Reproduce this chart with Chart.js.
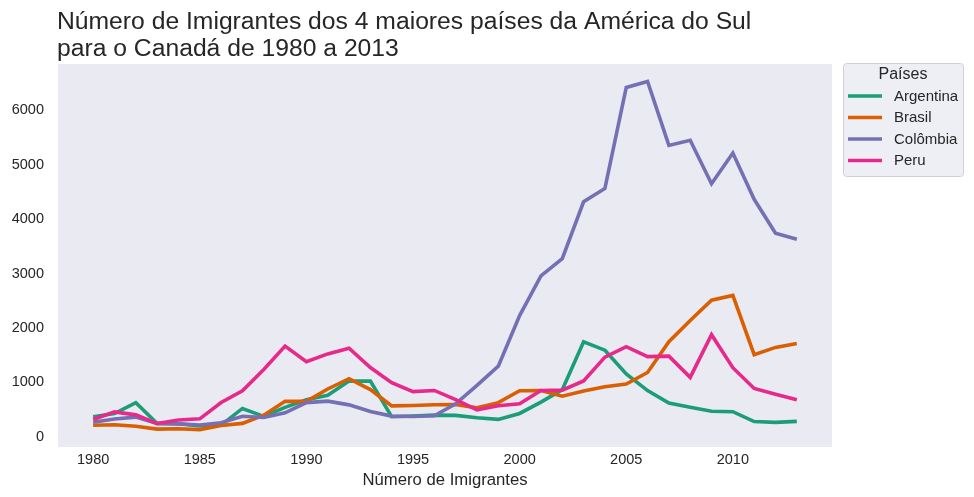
<!DOCTYPE html>
<html>
<head>
<meta charset="utf-8">
<script src="https://cdn.jsdelivr.net/npm/chart.js@4"></script>
<style>
  html, body { margin: 0; padding: 0; background: #ffffff; }
  #wrap { width: 974px; height: 497px; position: relative; }
</style>
</head>
<body>
<div id="wrap"><canvas id="c" width="974" height="497"></canvas></div>
<script>
const years = [1980,1981,1982,1983,1984,1985,1986,1987,1988,1989,1990,1991,1992,1993,1994,1995,1996,1997,1998,1999,2000,2001,2002,2003,2004,2005,2006,2007,2008,2009,2010,2011,2012,2013];
const argentina = [368,426,626,241,237,196,213,519,374,538,678,763,1023,1022,366,380,396,391,349,318,427,635,865,1745,1591,1153,847,620,540,467,459,278,263,282];
const brasil = [211,220,192,139,145,130,205,244,394,650,650,877,1066,866,566,572,586,591,531,626,845,847,745,839,917,969,1181,1746,2138,2509,2598,1508,1642,1714];
const colombia = [266,326,360,244,235,214,257,376,352,439,627,653,585,462,378,371,385,603,945,1296,2228,2958,3273,4320,4565,6424,6535,5357,5452,4652,5218,4366,3741,3631];
const peru = [317,456,401,241,306,328,628,843,1237,1667,1379,1522,1628,1271,993,828,850,682,493,569,606,850,856,1026,1463,1655,1472,1481,1091,1876,1269,887,782,680];
const seriesNames = ['Argentina','Brasil','Colômbia','Peru'];
const xTicks = [1980,1985,1990,1995,2000,2005,2010];
const yTicks = [0,1000,2000,3000,4000,5000,6000];
const titleLines = ['Número de Imigrantes dos 4 maiores países da América do Sul','para o Canadá de 1980 a 2013'];
const xLabel = 'Número de Imigrantes';
const legendTitle = 'Países';
const colors = ['#1b9e77','#d95f02','#7570b3','#e7298a'];

const FONT = "'Liberation Sans', Arial, sans-serif";
const TEXT = '#262626';
const allSeries = [argentina, brasil, colombia, peru];

const datasets = allSeries.map((vals, i) => ({
  label: seriesNames[i],
  data: years.map((y, j) => ({x: y, y: vals[j]})),
  borderColor: colors[i],
  backgroundColor: colors[i],
  borderWidth: 3.6,
  pointRadius: 0,
  tension: 0,
  order: allSeries.length - 1 - i
}));

const decor = {
  id: 'decor',
  beforeDraw(chart) {
    const {ctx, chartArea: a} = chart;
    ctx.save();
    ctx.fillStyle = '#eaeaf2';
    ctx.fillRect(a.left, a.top, a.right - a.left, a.bottom - a.top);
    ctx.restore();
  },
  afterDraw(chart) {
    const ctx = chart.ctx;
    ctx.save();
    // title
    ctx.fillStyle = TEXT;
    ctx.font = '24.7px ' + FONT;
    ctx.textAlign = 'left';
    ctx.textBaseline = 'alphabetic';
    ctx.fillText(titleLines[0], 57, 28.5);
    ctx.fillText(titleLines[1], 57, 56);
    // legend box
    const bx = 843.5, by = 63.5, bw = 120, bh = 113, r = 3;
    ctx.beginPath();
    ctx.moveTo(bx + r, by);
    ctx.lineTo(bx + bw - r, by);
    ctx.quadraticCurveTo(bx + bw, by, bx + bw, by + r);
    ctx.lineTo(bx + bw, by + bh - r);
    ctx.quadraticCurveTo(bx + bw, by + bh, bx + bw - r, by + bh);
    ctx.lineTo(bx + r, by + bh);
    ctx.quadraticCurveTo(bx, by + bh, bx, by + bh - r);
    ctx.lineTo(bx, by + r);
    ctx.quadraticCurveTo(bx, by, bx + r, by);
    ctx.closePath();
    ctx.fillStyle = '#eeeef5';
    ctx.fill();
    ctx.strokeStyle = '#d0d0d0';
    ctx.lineWidth = 1;
    ctx.stroke();
    ctx.fillStyle = TEXT;
    ctx.font = '16px ' + FONT;
    ctx.textAlign = 'center';
    ctx.textBaseline = 'middle';
    ctx.fillText(legendTitle, 903, 75);
    ctx.font = '15px ' + FONT;
    ctx.textAlign = 'left';
    seriesNames.forEach((n, i) => {
      const y = 96 + i * 21.5;
      ctx.strokeStyle = colors[i];
      ctx.lineWidth = 3.6;
      ctx.lineCap = 'butt';
      ctx.beginPath();
      ctx.moveTo(848, y);
      ctx.lineTo(882, y);
      ctx.stroke();
      ctx.fillStyle = TEXT;
      ctx.fillText(n, 894, y + 0.5);
    });
    ctx.restore();
  }
};

new Chart(document.getElementById('c'), {
  type: 'line',
  data: { datasets },
  options: {
    responsive: false,
    animation: false,
    devicePixelRatio: 1,
    layout: { padding: { top: 64, right: 142, bottom: 0, left: 0 } },
    plugins: { legend: { display: false }, title: { display: false }, tooltip: { enabled: false } },
    scales: {
      x: {
        type: 'linear',
        min: 1978.35,
        max: 2014.65,
        afterBuildTicks(s) { s.ticks = xTicks.map(v => ({value: v})); },
        afterFit(s) { s.height = 50; },
        grid: { display: false, drawTicks: false },
        border: { display: false },
        ticks: { color: TEXT, font: { family: FONT, size: 14.5 }, padding: 4, maxRotation: 0, callback: v => String(v) },
        title: { display: true, text: xLabel, color: TEXT, font: { family: FONT, size: 16.7 }, padding: { top: 0, bottom: 7 } }
      },
      y: {
        type: 'linear',
        min: -190,
        max: 6855,
        afterBuildTicks(s) { s.ticks = yTicks.map(v => ({value: v})); },
        afterFit(s) { s.width = 58; },
        grid: { display: false, drawTicks: false },
        border: { display: false },
        ticks: { color: TEXT, font: { family: FONT, size: 14.5 }, padding: 14, callback: v => String(v) }
      }
    }
  },
  plugins: [decor]
});
</script>
</body>
</html>
